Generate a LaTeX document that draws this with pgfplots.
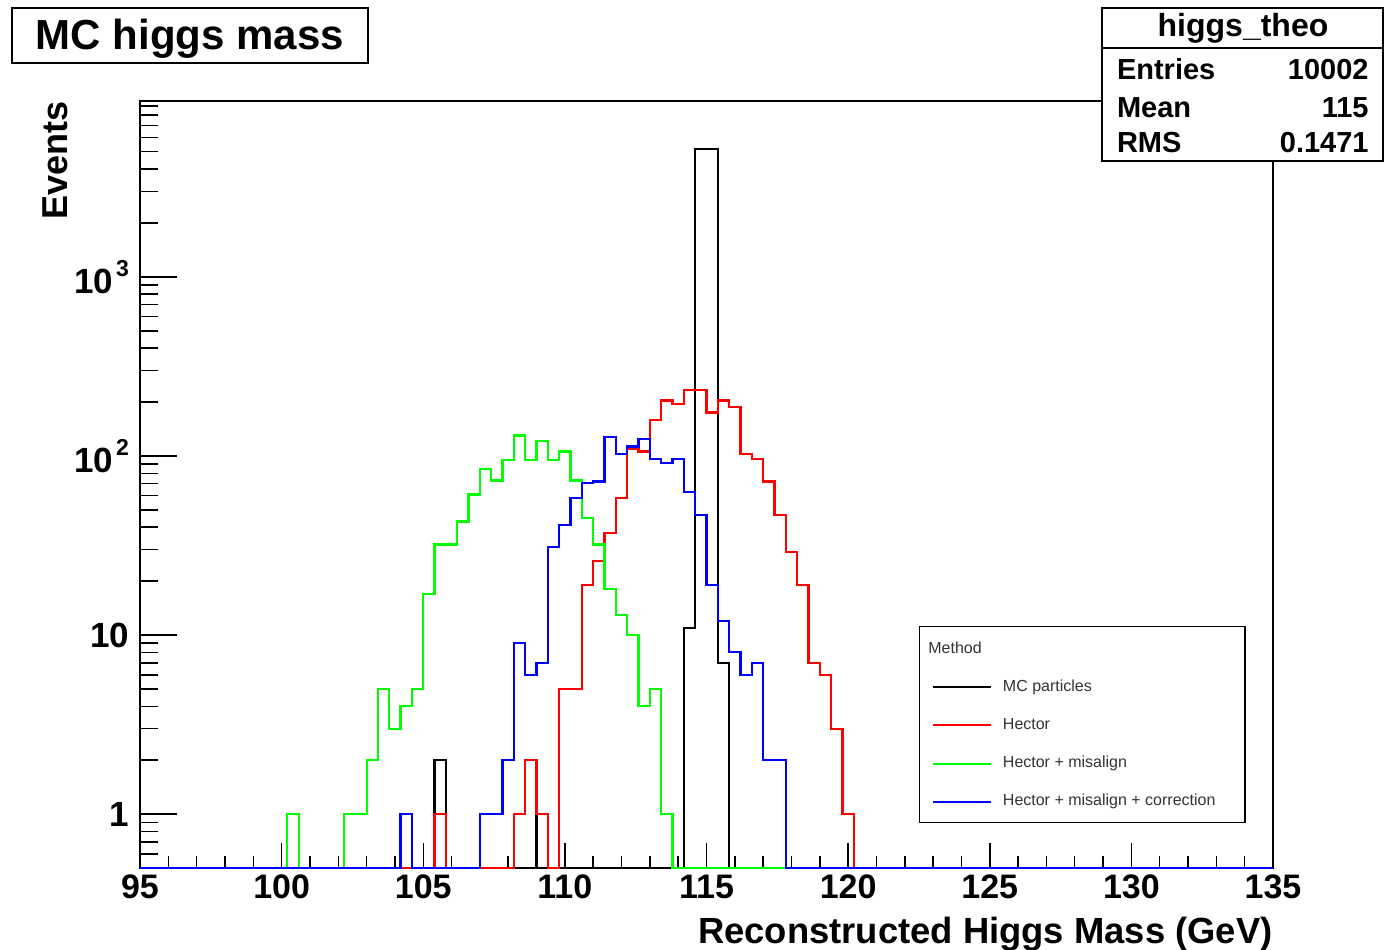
\documentclass[border=0pt]{standalone}
\usepackage{fontspec}
\setmainfont{Liberation Sans}
\usepackage{pgfplots}
\pgfplotsset{compat=1.18}
\usepackage{pgfplotstable}

% bin left edges (bin width 0.4 GeV); empty bins drawn at the axis minimum 0.5
\pgfplotstableread{
x y
95 0.5
105.4 2
105.8 0.5
109.0 1
109.4 0.5
114.2 11
114.6 5190
115.0 5190
115.4 7
115.8 0.5
135 0.5
}\mcdata

\pgfplotstableread{
x y
95 0.5
105.4 1
105.8 0.5
108.2 1
108.6 2
109.0 1
109.4 0.5
109.8 5
110.2 5
110.6 19
111.0 26
111.4 37
111.8 58
112.2 110
112.6 106
113.0 159
113.4 204
113.8 195
114.2 234
114.6 234
115.0 175
115.4 204
115.8 187
116.2 103
116.6 96
117.0 72
117.4 47
117.8 29
118.2 19
118.6 7
119.0 6
119.4 3
119.8 1
120.2 0.5
135 0.5
}\hectordata

\pgfplotstableread{
x y
95 0.5
100.2 1
100.6 0.5
102.2 1
102.6 1
103.0 2
103.4 5
103.8 3
104.2 4
104.6 5
105.0 17
105.4 32
105.8 32
106.2 43
106.6 61
107.0 85
107.4 73
107.8 95
108.2 130
108.6 95
109.0 121
109.4 95
109.8 106
110.2 73
110.6 45
111.0 32
111.4 18
111.8 13
112.2 10
112.6 4
113.0 5
113.4 1
113.8 0.5
135 0.5
}\misdata

\pgfplotstableread{
x y
95 0.5
104.2 1
104.6 0.5
107.0 1
107.4 1
107.8 2
108.2 9
108.6 6
109.0 7
109.4 31
109.8 41
110.2 58
110.6 71
111.0 72
111.4 128
111.8 103
112.2 113
112.6 125
113.0 96
113.4 91
113.8 96
114.2 63
114.6 47
115.0 19
115.4 12
115.8 8
116.2 6
116.6 7
117.0 2
117.4 2
117.8 0.5
135 0.5
}\corrdata

\begin{document}
\begin{tikzpicture}
\begin{axis}[
  at={(70pt,40.5pt)}, anchor=south west,
  scale only axis, width=566.5pt, height=383.5pt,
  xmin=95, xmax=135, ymode=log, ymin=0.5, ymax=9600,
  clip=false,
  axis line style={line width=1pt},
  xtick={95,100,...,135}, minor x tick num=4,
  ytick={1,10,100,1000},
  yticklabels={1,10,10\kern1.5pt\raisebox{0.5em}{\fontsize{11.5}{11.5}\selectfont 2},10\kern1.5pt\raisebox{0.5em}{\fontsize{11.5}{11.5}\selectfont 3}},
  minor ytick={0.6,0.7,0.8,0.9,2,3,4,5,6,7,8,9,20,30,40,50,60,70,80,90,200,300,400,500,600,700,800,900,2000,3000,4000,5000,6000,7000,8000,9000},
  xtick pos=left, ytick pos=left, tick align=inside,
  xtick style={/pgfplots/major tick length=12.5pt, line width=0.75pt, black},
  minor x tick style={/pgfplots/minor tick length=6pt, line width=0.75pt, black},
  ytick style={/pgfplots/major tick length=18.5pt, line width=0.75pt, black},
  minor y tick style={/pgfplots/minor tick length=9pt, line width=0.75pt, black},
  /pgf/number format/assume math mode=true,
  /pgf/number format/1000 sep={},
  xticklabel style={font=\fontsize{17}{17}\selectfont\bfseries},
  yticklabel style={font=\fontsize{17.5}{17.5}\selectfont\bfseries, xshift=-2pt},
  xlabel={Reconstructed Higgs Mass (GeV)},
  xlabel style={at={([yshift=-37.5pt]rel axis cs:1,0)}, anchor=base east, inner sep=0pt, font=\fontsize{18.2}{18.2}\selectfont\bfseries},
  ylabel={Events},
  ylabel style={at={([xshift=-36.5pt]rel axis cs:0,1)}, anchor=base east, inner sep=0pt, font=\fontsize{18}{18}\selectfont\bfseries},
  legend image code/.code={\draw[#1, line width=1pt] (0pt,0pt) -- (29pt,0pt);},
  legend cell align=left,
  legend style={at={(rel axis cs:0.6988,0.2464)}, anchor=north west, draw=none, fill=none,
    inner sep=0pt, outer sep=0pt, row sep=11.15pt, column sep=5.6pt,
    font=\fontsize{8}{9}\selectfont, text=black!80,
    nodes={inner sep=0pt, text height=6pt, text depth=2pt}},
]
\addplot[const plot, black, line width=1.1pt] table[x=x, y=y] {\mcdata};
\addlegendentry{MC particles}
\addplot[const plot, red, line width=1.1pt] table[x=x, y=y] {\hectordata};
\addlegendentry{Hector}
\addplot[const plot, green, line width=1.1pt] table[x=x, y=y] {\misdata};
\addlegendentry{Hector + misalign}
\addplot[const plot, blue, line width=1.1pt] table[x=x, y=y] {\corrdata};
\addlegendentry{Hector + misalign + correction}
\draw[line width=0.75pt] (rel axis cs:0.6878,0.0591) rectangle (rel axis cs:0.9753,0.3146);
\node[anchor=west, inner sep=0pt, font=\fontsize{8}{9}\selectfont, text=black!80] at (rel axis cs:0.6955,0.2868) {Method};
\end{axis}
% title box
\draw[line width=0.8pt] (6pt,443pt) rectangle (184pt,470.5pt);
\node[anchor=base, inner sep=0pt, font=\fontsize{21}{21}\selectfont\bfseries] at (95pt,449.5pt) {MC higgs mass};
% stats box
\draw[line width=0.8pt, fill=white] (551pt,394pt) rectangle (691.5pt,470.5pt);
\draw[line width=0.8pt] (551pt,450.5pt) -- (691.5pt,450.5pt);
\node[anchor=base, inner sep=0pt, font=\fontsize{16}{16}\selectfont\bfseries] at (621.5pt,456.2pt) {higgs\_theo};
\begin{scope}[every node/.style={inner sep=0pt, font=\fontsize{14.5}{14.5}\selectfont\bfseries}]
\node[anchor=base west] at (558.3pt,434.5pt) {Entries};
\node[anchor=base east] at (684.5pt,434.5pt) {10002};
\node[anchor=base west] at (558.3pt,415.5pt) {Mean};
\node[anchor=base east] at (684.5pt,415.5pt) {115};
\node[anchor=base west] at (558.3pt,398pt) {RMS};
\node[anchor=base east] at (684.5pt,398pt) {0.1471};
\end{scope}
\pgfresetboundingbox
\useasboundingbox (0pt,0pt) rectangle (693.5pt,474.5pt);
\end{tikzpicture}
\end{document}
